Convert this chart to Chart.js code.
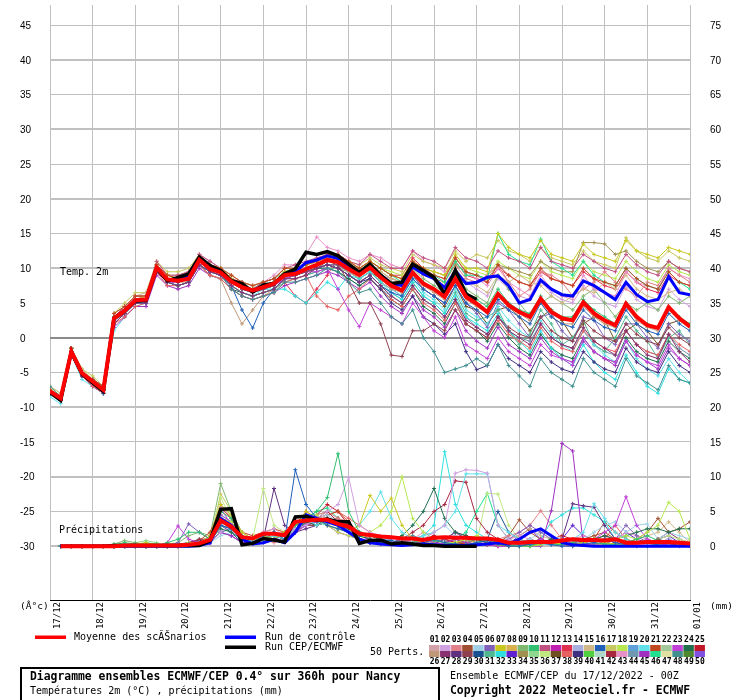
<!DOCTYPE html>
<html lang="fr">
<head>
<meta charset="UTF-8">
<title>Diagramme ensembles ECMWF/CEP - Nancy</title>
<script src="https://cdn.jsdelivr.net/npm/chart.js"></script>
<style>
  body { margin: 0; background: #fff; }
</style>
</head>
<body>
<canvas id="ensChart" width="740" height="700"></canvas>
<script>
// one point every 6h from 17/12 00Z to 01/01 00Z (61 steps)
const dayLabels = ['17/12', '18/12', '19/12', '20/12', '21/12', '22/12', '23/12', '24/12',
    '25/12', '26/12', '27/12', '28/12', '29/12', '30/12', '31/12', '01/01'];
const leftTicks = [-30, -25, -20, -15, -10, -5, 0, 5, 10, 15, 20, 25, 30, 35, 40, 45];
const rightTicks = [0, 5, 10, 15, 20, 25, 30, 35, 40, 45, 50, 55, 60, 65, 70, 75];

// temperature 2m (°C)
const tempMean = [-7.7, -8.7, -2, -5.1, -6.3, -7.5, 2.8, 3.9, 5.4, 5.5,
    10.1, 8.4, 8.2, 8.5, 11.2, 9.9, 9.4, 8.1, 7.3, 6.8,
    7.3, 7.8, 9, 9.2, 9.9, 10.5, 11.2, 10.9, 9.9, 9,
    10.1, 8.7, 7.5, 6.8, 9.4, 7.8, 7, 5.9, 8.5, 5.9,
    4.9, 3.7, 6.3, 4.7, 3.7, 3, 5.6, 3.7, 2.8, 2.5,
    5.1, 3.5, 2.5, 1.8, 4.9, 3, 1.8, 1.4, 4.4, 2.8, 1.6];
const tempCtrl = [-7.8, -8.9, -2, -5.1, -6.4, -7.6, 2.8, 3.9, 5.4, 5.5,
    10.1, 8.3, 8.4, 8.8, 11.4, 10.1, 9.5, 8.2, 7.5, 6.8,
    7.4, 7.8, 9.1, 9.5, 10.8, 11.2, 11.8, 11.4, 10.3, 9.2,
    10.4, 9, 7.8, 7.5, 10.2, 9.2, 8.5, 7.2, 9.6, 7.8,
    8, 8.7, 8.9, 7.5, 5, 5.5, 8.3, 7, 6.2, 6,
    8.2, 7.5, 6.5, 5.5, 8, 6.2, 5.2, 5.5, 8.8, 6.5, 6.2];
const tempCep = [-7.9, -9, -2, -5.2, -6.5, -7.7, 2.8, 3.9, 5.3, 5.4,
    10, 8.2, 8.7, 9.2, 11.6, 10.4, 9.7, 8.2, 7.8, 6.6,
    7.6, 7.8, 9.2, 9.9, 12.3, 12, 12.4, 11.8, 10.6, 9.4,
    10.6, 9, 7.8, 8, 10.6, 9.7, 8.7, 6.3, 9.7, 6.3,
    5.5];

// precipitation (mm per 6h)
const precipMean = [null, 0, 0, 0, 0, 0, 0, 0.1, 0.1, 0.1,
    0.1, 0.1, 0.1, 0.2, 0.4, 0.9, 3.7, 2.8, 1.3, 1.1,
    1.8, 1.8, 1.6, 3.5, 3.7, 3.8, 3.8, 3.2, 2.8, 1.8,
    1.6, 1.4, 1.3, 1.1, 1.1, 0.9, 1.2, 1.3, 1.2, 1.2,
    1.1, 1.1, 0.9, 0.5, 0.5, 0.6, 0.6, 0.6, 0.8, 1,
    0.9, 0.9, 0.8, 1, 0.5, 0.5, 0.6, 0.6, 0.6, 0.5, 0.4];
const precipCtrl = [null, 0, 0, 0, 0, 0, 0, 0, 0, 0,
    0, 0, 0, 0, 0.1, 0.5, 4, 3, 1, 0.3,
    0.5, 1, 0.5, 2, 4.5, 4, 3.5, 3, 2, 1,
    0.5, 0.3, 0.2, 0.1, 0.2, 0.3, 0.2, 0.1, 0.1, 0.1,
    0.2, 0.3, 0.5, 0.3, 1, 2, 2.5, 1.5, 0.5, 0.2,
    0.1, 0, 0, 0, 0, 0, 0, 0, 0, 0, 0];
const precipCep = [null, 0, 0, 0, 0, 0, 0.1, 0.1, 0.1, 0.1,
    0.1, 0.1, 0.1, 0.1, 0.1, 0.8, 5.3, 5.4, 0.2, 0.4,
    1.1, 0.9, 0.6, 4.2, 4.3, 3.7, 3.9, 3.5, 3.5, 0.4,
    0.8, 0.9, 0.3, 0.5, 0.3, 0.1, 0.1, 0, 0, 0,
    0];

// colours of the 50 perturbations (legend swatches)
const pertColours = ['#d4a0a8', '#d0a0e0', '#e08088', '#a05030', '#a0d0e8', '#8060b8', '#c8c820', '#d8b050', '#80b870', '#30c070',
    '#c05080', '#c020b0', '#e03050', '#a8b0e0', '#d0b888', '#2060b8', '#c8c860', '#b8e850', '#60a0d8', '#60e0e8',
    '#c04820', '#a0c898', '#c040d8', '#207050', '#c01828', '#c09878', '#883070', '#603080', '#904050', '#185090',
    '#50b890', '#30e0e0', '#6020d0', '#a09050', '#90d890', '#c0e880', '#705020', '#e86060', '#403080', '#50d040',
    '#b0d8c8', '#a82840', '#e890c8', '#7098b0', '#a030c0', '#20e090', '#e0e0a0', '#409090', '#508830', '#8050e0'];

const tempPertIds = [21, 27, 48, 29, 7, 23, 11, 16, 39, 15, 46, 38, 32, 34, 10, 17, 26, 45, 3, 20, 6, 43, 9, 31, 18, 24, 2, 37, 13, 44];
const tempPerts = [
    [-7.5,-8.5,-1.5,-5,-6,-7,3.5,4.5,6,6, 10.5,9,8.5,9,11.5,10.5,10,9,8,7.5, 8,8.5,10,10,10.5,11,12,12,11,10, 11,10,9,8.5,11,10,9,8.5,11.5,9.5, 9,8,10.5,9,8,7.5,10,8.5,8,7.5, 10,8.5,8,7.5,10,8.5,7.5,7,9.5,8,7.5],
    [-8,-9,-2.5,-5.5,-6.5,-7.5,2,3.5,5,5, 9.5,8,7.5,8,10.5,9.5,9,7.5,6.5,6, 6.5,7,8.5,8.5,9,10,10.5,10,9,8, 9,7.5,6,5,7.5,5.5,4.5,3,5.5,2.5, 1.5,0.5,3,1,0,-1,2,0,-1,-1.5, 1.5,-0.5,-1.5,-2.5,1,-1,-2.5,-3,0.5,-2,-3.5],
    [-7,-8.5,-1.5,-5,-6,-7,3,4,5.5,5.5, 10,8,7.5,8,11,9.5,9,7,6,5.5, 6,6.5,8,8,8.5,9,10,9.5,8,6.5, 7,5,3,2,4,0,-2,-5,-4.5,-4, -3,-4,-1,-4,-5.5,-7,-3,-5,-6,-7, -3,-5,-6,-7,-3,-5.5,-6.5,-7.5,-4,-6,-6.5],
    [-8,-9,-2,-5.5,-6.5,-7.5,2.5,3.5,5,5.5, 10,8.5,8,8.5,11,10,9.5,8,7,6.5, 7,7.5,9,9,9.5,10,11,10.5,8,5, 5,2,-2.5,-2.7,1,1,2,1,4,2, 1,0,3,1.5,0.5,0,3,1,0,-0.5, 2.5,1,0,-0.5,2,0.5,-0.5,-1,1.5,0,-1],
    [-7.5,-8.5,-1.5,-5,-6,-7.5,3,4,5.5,6, 10.5,9,8.5,9,11.5,10.5,10,8.5,7.5,7, 7.5,8,9.5,10,10.5,11,12,11.5,11,10, 11,10,9,8.5,11,10,9.5,9,12,10, 10,9.5,15,13,12,11.5,14,12,11.5,11, 13.5,12,11.5,11,14,12.5,12,11.5,13,12.5,12],
    [-7.5,-8.5,-2,-5,-6.5,-7.5,2.5,4,5.5,5.5, 10,8,8,8.5,11,9.5,9,8,7,6.5, 7,7.5,8.5,9,9.5,9.5,10,7,4,1.6, 5,4,3,2,5,3,1,0,3,-1, -2,-3,0,-2,-3,-4,-1,-2.5,-3,-4, 0,-2,-3,-3.5,-0.5,-2.5,-3.5,-4,-1,-3,-4],
    [-7.5,-8.5,-1.5,-5,-6,-7,3,4.5,6,6, 11,9,9,9.5,12,11,10,8.5,7.5,7, 8,8.5,10,10.5,11,11.5,12,12,11,10.5, 12,11,10,10,12.5,11.5,11,10,13,11.5, 11,10,12.5,11.5,11,10,13,11,10.5,10, 12,11,10,9.5,12,10.5,9.5,9,11,10,9.5],
    [-8,-9,-2.5,-5.5,-6.5,-8,2,3.5,5,5, 9.5,8,7.5,8,10.5,9.5,9,7.5,4,1.4, 5,7,8.5,9,9.5,10,10.5,10,9,8, 9,7.5,6.5,6,8.5,7,6,5,7.5,5, 4,3,5.5,4,3,2,5,3,2,1.5, 4,2.5,1.5,1,4,2,1,0.5,3.5,2,1],
    [-7.5,-8.5,-2,-5,-6,-7.5,3,4,5.5,5.5, 10,8.5,8,8.5,11.5,10,9.5,8,7.5,7, 7.5,8,9,9,9.5,10,10.5,10,9,8, 8.5,7,5,4,6,3,2,0.5,2,-2, -4.6,-4,-1,-3,-4,-5,-2,-3.5,-4.5,-5, -2,-3.5,-4.5,-5,-1.5,-3.5,-4.5,-5,-2,-4,-5],
    [-7,-8,-1.5,-4.5,-6,-7,3.5,4.5,6,6.5, 10.5,9,8.5,9,11.5,10.5,10,9,8,7.5, 8,8.5,9.5,9.5,10,11,11.5,11,10.5,9.5, 10.5,9.5,8.5,8,10.5,9,8.5,7.5,10,8, 7.5,6.5,9,8,9,8,7.5,6,5,6, 7,6.5,8,7,9,7,6,5.5,6.5,7,6],
    [-7.5,-8.5,-2,-5,-6,-7.5,2.5,4,5.5,5.5, 10,8.5,8.5,9,11,10,9.5,8.5,7.5,7, 8,8.5,9.5,10,10.5,11,12,11.5,10.5,9.5, 11,10,9,8,10.5,9.5,9,8,11,9, 9,8.5,15,12,11,10.5,14.2,11,10,9, 11,9,8,7.5,10,8.5,7.5,7,9.5,8,7],
    [-8,-9,-2,-5.5,-7,-8,2,3,4.5,5, 9.5,7.5,7.5,8,10.5,9,8.5,7,6,5.5, 6,6.5,8,8.5,9,6,4.5,4,6,7, 8.5,7,5.5,4.5,7,5,4,2.5,5,2, 1,0,2.5,0.5,-0.5,-1.5,1.5,-0.5,-1.5,-2, 1,-0.5,-1.5,-2,1,-1,-2,-2.5,0.5,-1,-2],
    [-7.5,-9,-2,-5,-6.5,-7.5,2.5,3.5,5,5, 10,8,8,8.5,11,9.5,9,8,7,6.5, 7,7,7,6,5,6.5,8,7,9,8.5, 9.5,8,6.5,5.5,8,6,5,3.5,6,3, 2,1,3.5,1,-0.5,-2,1,-1.5,-3,-4, -1,-3.5,-5,-6,-2.5,-5,-7,-8,-4.5,-6,-6.5],
    [-7.5,-8.5,-1.5,-5,-6,-7,3,4,5.5,6, 10,8.5,8.5,9,11,10,9.5,8.5,7.5,7, 7.5,8,9,9.5,10,10.5,11.5,11,10.5,9.5, 10.5,9.5,8.5,8,10,9,8.5,8,10.5,9.5, 9,8.5,10.5,10,9.5,9,11,10,9.5,9.5, 13.7,13.7,13.5,12,12.5,11,10,9.5,11,10,9.5],
    [-7.5,-8.5,-2,-5,-6.5,-7.5,3,4,5.5,5.5, 10,8.5,8,8.5,11,10,9.5,8,7.5,7, 7.5,8,9,9.5,10,10.5,11,11,10,9, 10,8.5,7.5,7,9.5,8,7,6,9,6.5, 5.5,4.5,7,5,4,3.5,6,4,3,3, 5.5,4,3,2,5,3,2,1.5,4.5,3,2],
    [-7,-8.5,-1.5,-4.5,-5.5,-7,3.5,5,6.5,6.5, 11,9.5,9.5,10,12,10.5,10,8.5,7.5,7, 8,8.5,10,10,10.5,11,12,11.5,11,10.5, 11.5,10.5,10,9.5,12,11,10.5,10,12.5,11, 12,11.5,14,12.5,12,11,13,11.5,11,10.5, 12.5,11,10.5,10,14.4,12.5,11.5,11,12.5,11.5,11],
    [-8,-9,-2,-5.5,-6.5,-8,2,3.5,5,5, 9.5,8,8,8,10.5,9,8.5,5,2,4, 6,7,8.5,9,9.5,10,10.5,10,9.5,8.5, 9.5,8,7,6.5,9,7.5,6.5,5.5,8,5.5, 4.5,3.5,6,4.5,3.5,2.5,5,3,2,2, 4.5,3,2,1.5,4.5,2.5,1.5,1,4,2.5,1.5],
    [-8,-9,-2.5,-5.5,-7,-8,1.5,3,4.5,4.5, 9,7.5,7,7.5,10,9,8.5,7,6,5.5, 6,6.5,7.5,8,8.5,9,9.5,9,8,7, 8,6,4.5,3.5,6,4,3,1.5,4,1, -0.5,-1.5,1.5,-1,-2,-3,0,-2,-3,-3.5, -0.5,-2,-3,-4,-0.5,-2.5,-3.5,-4.5,-1.5,-3,-4],
    [-7.5,-8.5,-2,-5,-6,-7,3,4.5,6,6, 10.5,9,8.5,9,11.5,10.5,10,8.5,7.5,7, 7.5,8,9.5,10,10.5,11,11.5,11,10.5,10, 11,10,9,8.5,11,9.5,9,8.5,10.5,8.5, 8,9,10.5,8,6,7,9.5,9,8,6, 7,8,9.5,8,7,6,8,7.5,10,9,8],
    [-8.5,-9.5,-2.5,-6,-7,-8,1,3,4.5,5, 9.5,8,7.5,8,10.5,9.5,9,7.5,6.5,6, 7,7.5,8.5,9,9.5,10,10.5,10,9.5,8.5, 9.5,8,7,6,8.5,6.5,5.5,4,7,4, 3,2,4.5,2.5,1,0,2.5,0.5,-1,-2, 1,-1,-2.5,-3.5,-0.5,-3,-4.5,-5.5,-3,-5,-6.5],
    [-7.5,-8.5,-2,-5,-6.5,-7.5,2.5,4,5,5.5, 10,8.5,8,8.5,11,10,9.5,8,7,6.5, 7,7.5,8.5,9,9.5,10,10.5,10.5,9.5,8.5, 9.5,8,7,6,9,7,6,5,7.5,5, 3.5,1.5,5,4,2,0,3,3.5,1,-0.5, 3,2.5,0,-1,2,2,0,-1.5,2,0.5,-0.5],
    [-7.5,-8.5,-2,-5,-6,-7,3,4,5.5,6, 10.5,9,9,9.5,12,11,10,9,8,7.5, 8,9,10.5,10.5,12,14.5,13,12.5,11.5,11, 12,11.5,10.5,10,12.5,11,10.5,9.5,11.5,9.5, 8.5,7.5,10,8,7,6,9,7,6,5.5, 9,7,6.5,6,9.5,8,7.5,7,10,9,8.5],
    [-8,-8.5,-2,-5,-6.5,-7.5,2.5,4,5.5,5.5, 10,8.5,8,8.5,11,10,9.5,8.5,7.5,7, 7,7.5,9,9.5,10,10.5,11,11,10,9, 10,9,8,7,10,8.5,7.5,6.5,9.5,7, 6,5,9,7,5,3,5,6,5,4, 6,7,5,3,5,4,5,4,6,5,6],
    [-7.5,-9,-2,-5.5,-6.5,-7.5,2.5,3.5,5,5, 9.5,8,7.5,8,10.5,9.5,9,7.5,6.5,6, 6.5,7,8,8.5,9,9.5,10,10,9,8, 9,7.5,6.5,5.5,8,6,5,3.5,6.5,3.5, 2.5,3,4,1,-1,0.5,4,2,-1,0, 2.5,-1,-2,0,3,1,-0.5,-3,0,1,-1],
    [-7,-8,-1.5,-4.5,-6,-7,3.5,4.5,6,6, 10.5,9,9,9.5,11.5,10.5,10,9,8,7.5, 8,8.5,9.5,10,10.5,11,11.5,11.5,10.5,10, 11,10,9.5,9,11,10,9.5,9,11.5,10, 9.5,9,11,10,9,8.5,11,9.5,9,8.5, 11,9.5,9,8.5,11,9.5,8.5,8,10.5,9.5,9],
    [-8,-9,-2.5,-5.5,-7,-8,2,3.5,5,5, 9.5,8,7.5,8,10.5,9,8.5,7,6.5,6, 6.5,7,8.5,9,9.5,10,10,9.5,8.5,7.5, 8.5,7,5.5,4.5,7,4.5,3.5,2,5,2, 1,-0.5,2,0,-1.5,-2.5,0.5,-1.5,-2.5,-3, 0,-2,-3,-3.5,0,-2,-3,-3.5,-0.5,-2,-3],
    [-7.5,-8.5,-2,-5,-6,-7.5,3,4,5.5,6, 10,8.5,8.5,9,11,10,9.5,8.5,7.5,7, 7.5,8,9.5,9.5,10,10.5,11,11,10,9.5, 10.5,9,8.5,8,10,9,8.5,7.5,10,8, 7,6,8.5,7,6,5.5,8,6.5,5.5,5, 7.5,6,5,4.5,7.5,5.5,4.5,4,7,5.5,4.5],
    [-7.5,-8.5,-2,-5,-6.5,-7.5,2.5,4,5.5,5.5, 10,8.5,8,8.5,11,9.5,9,8,7,6.5, 7,7.5,9,9,9.5,10,10.5,10.5,9.5,8.5, 9.5,8.5,7.5,6.5,9,7,6,4.5,7.5,4.5, 4,2,4,4.5,3,1,3,4,2.5,0, 2,3,2.5,-0.5,1,2,1,-1,2,2.5,1.5],
    [-7.5,-8.5,-1.5,-5,-6,-7,3,4.5,6,6, 10.5,9,8.5,9,11.5,10.5,10,8.5,8,7.5, 8,8.5,8,6,5,7,9,11.5,11,10, 11,10,9,9,11.5,10,9.5,9,11,9, 8.5,8,10,9,8,7.5,9.5,8.5,8,7.5, 9.5,8.5,7.5,7,9.5,8,7,6.5,9,8,7.5],
    [-8,-9,-2,-5.5,-6.5,-8,2,3.5,5,5, 9.5,8,7.5,8,10.5,9.5,9,7.5,6.5,6, 6.5,7,8.5,8.5,9,9.5,10,9.5,8.5,7.5, 8.5,7,6,5,7.5,5.5,4.5,3,5.5,3, 1.5,0.5,3,1,0,-0.5,2,0,-1,-1.5, 1,-1,-2,-2.5,1,-1,-2,-2.5,0.5,-1.5,-2.5]
];

const precipPertIds = [16, 10, 2, 7, 20, 18, 24, 23, 6, 45, 42, 3, 4, 28, 36, 5, 32, 21, 9, 25, 43, 48, 46, 15, 33, 17, 38, 27, 30, 35];
const precipPerts = [
    [null,0,0,0,0,0,0,0.1,0.2,0, 0,0,0.1,0.3,0.5,0.5,3,2.5,1,0.5, 1.5,2,1,11,6,4,3,2.5,2,1, 0.5,1,0.8,0.5,0.3,0.5,1,0.5,0.3,0.2, 0.5,0.8,0.3,0,0,0.3,0.5,0.2,0,0, 0.3,0.5,1,0.5,0.2,0,0,0.3,0.8,0.5,0.2],
    [null,0,0,0,0,0,0.2,0.5,0.3,0, 0,0.5,1,2,2,1,5,4,1.5,0.5, 1,2,1.5,3,4,5,7,13.3,5,2, 1.5,1,0.5,0.3,0.5,1,0.8,0.5,0.3,0.2, 0.5,1,0.5,0.2,0,0,0.5,0.3,0.2,0.5, 1,0.5,0.3,0.2,0.5,1,1.5,0.8,0.5,0.3,0.2],
    [null,0,0,0,0,0,0,0,0,0, 0,0,0.2,0.3,0.5,0.5,2,3,1.5,1, 2,2.5,1.5,2.5,3,4,5,6,9.9,3, 2,1.5,1,1,0.5,1,2,3,10.5,11, 10.9,10.5,3,1,0.5,0.3,0.5,0.2,0,0, 0.3,0.5,0.8,1,0.5,0.3,0.2,0.5,1,0.5,0.3],
    [null,0,0,0,0,0,0,0,0.3,0.5, 0.2,0,0,0.2,0.5,1.5,6,4.5,2,1, 1.5,1,2,3,5,4,3,2.5,2,3, 7.3,5,6.9,3,1,0.5,0.3,0.2,0.5,1, 0.5,0.3,0.2,0,0,0,0.3,0.5,0.3,0.2, 0.5,1,0.5,0.3,0.2,0,0,0.3,0.5,0.3,0.2],
    [null,0,0,0,0,0,0,0,0,0, 0,0,0,0.1,0.3,0.5,3.5,2.5,1,0.8, 1,1.5,1,2.5,4,3,3.5,3,2,3, 5,7.8,4,2,1,1.5,2,3,5,10.4, 10.4,10.4,3,2,1,0.5,0.3,0.2,0.5,1, 2,6.1,4,2,1,0.5,0.3,0.5,1,0.5,0.3],
    [null,0,0,0,0,0,0,0,0,0, 0,0,0.2,0.5,0.5,1,4,3.5,1.5,1, 1,1.5,2,3,4,4.5,3,2,1.5,1, 2,3,5,10,4,2,1,0.5,0.5,1, 1.5,1,0.5,0.3,0,0,0.2,0.5,0.3,0.2, 0.5,1,0.5,1,1.5,1,2,3,6.3,5,1],
    [null,0,0,0,0,0,0,0,0,0, 0,0,0,0.2,0.3,1,2.5,2,1,0.5, 1,1.5,1,2,3.5,3,4,3,2.5,1.5, 1,0.5,1,1.5,3,5,8.3,4,2,1.5, 1,0.5,0.3,0,0,0.3,0.5,1,0.5,0.3, 0.5,1,1.5,1,1.5,2,2.5,2.5,2,2.5,2.5],
    [null,0,0,0,0,0,0,0,0,0, 0,0.5,2.9,1,0.5,1.5,5.5,3,1,0.5, 1,2,1.5,2,3,4,3,2,1.5,1, 1,0.5,0.5,0.3,0.5,1,0.5,0.3,0.5,1, 0.5,0.3,0,0,0.3,0.5,1,0.5,0.3,0.2, 0.5,1,2,3,7.1,3,1,0.5,0.3,0.5,0.3],
    [null,0,0,0,0,0,0,0,0.2,0, 0,0,0.5,3.2,2,1,4.5,3.5,1,0.3, 0.5,1,2,2.5,3,3.5,4,3,2,1, 0.5,0.3,0.5,1,0.5,0.3,0.5,1,2,1, 0.5,0.3,0.5,1,2,3,2,1,0.5,0.3, 1,0.5,0.3,1,3,1.5,0.5,0.3,0.5,0.3,0.2],
    [null,0,0,0,0,0,0,0,0,0, 0,0,0,0.3,0.5,0.5,2,1.5,0.5,0.5, 1,1,1.5,2.5,3,3.5,4,3,2,1.5, 1,0.5,0.3,0.2,0.5,0.3,0.2,0.5,1,0.5, 0.3,0.2,0,0,0,0,0,5.1,14.8,13.7, 0.2,0.5,1,0.5,0.3,0.2,0.5,0.3,0.2,0,0],
    [null,0,0,0,0,0,0,0,0,0, 0,0,0.2,0.5,1,1,3.5,3,1.5,1, 1.5,1,2,3,3.5,4,5,3.5,3,2, 1.5,1,0.5,1,2,3,5,6,9.4,9.2, 4,2,1,0.5,0.3,0.5,1,0.5,0.2,0, 0.5,1,1.5,1,0.5,0.3,0.5,1,0.5,0.3,0.2],
    [null,0,0,0,0,0,0,0,0,0, 0,0,0,0.2,0.5,1.5,6,4,1.5,1, 1,0.5,1,2,3,4.5,5,4,3.5,2, 1,0.5,0.3,0.5,1,0.5,0.3,0.5,1,0.5, 0.3,0.5,1,1.5,2,3,5.1,3,1,0.5, 0.3,0.2,0.5,1,0.5,0.3,0.2,0.5,1,0.3,0.2],
    [null,0,0,0,0,0,0,0,0,0, 0,0,0.1,0.2,0.3,0.5,4,3.5,1.5,0.5, 1,1.5,1,2.5,3,3,3.5,4,3,2, 1,0.5,0.5,0.3,0.5,0.5,0.3,0.3,0.5,0.5, 0.3,0.2,0.5,1.5,3.8,2,1,0.5,0.3,0.5, 1,1.5,2,1,0.5,1,2,4,2,2.5,3.5],
    [null,0,0,0,0,0,0,0,0,0, 0,0,0.3,0.5,0.8,0.8,3,2.5,1.2,0.5, 1,8.3,3,2,2.5,3,3.5,3,2,1, 0.5,0.3,0.3,0.5,1,0.5,0.3,1,2,1, 0.5,0.3,0.2,0,0,0.2,0.5,0.3,1,6.1, 5.8,5.6,3,1,0.5,0.3,0.2,0.5,0.3,0.2,0.2],
    [null,0,0,0,0,0,0,0,0,0, 0,0,0.2,0.3,0.5,1.2,7,4,2,1, 8.3,3,2,2.5,3,3.5,4,3,2.5,1.5, 1,0.5,1,1.5,1,0.5,0.5,0.3,0.5,1, 0.5,7.6,7.5,3,1,0.5,0.3,0.2,0.5,0.3, 0.3,0.5,1,0.5,0.3,0.2,0.5,1,1.5,1,0.5],
    [null,0,0,0,0,0,0,0,0,0, 0,0,0,0.1,0.3,0.5,1.5,2,1,1, 1.5,1,1.5,2,3,4,4.5,3.5,3,2, 1.5,1,0.5,0.5,1,1.5,2,3,1.5,1, 0.5,0.3,0.5,1,0.5,1,2,1.5,1,0.5, 1,2,3,3.5,2,3,3.2,1,2,1.5,1],
    [null,0,0,0,0,0,0,0,0,0, 0,0,0,0.2,0.3,1,3,2.5,1,0.5, 1,1.5,2,3,4,3.5,3,2.5,2,1.5, 1,0.5,0.3,0.5,1,1.5,3,13.6,6,3, 2,1,0.5,0.3,0.2,0.5,1,3.5,4.5,5.5, 5.5,4.5,3.5,1,0.5,0.3,0.5,1,0.5,0.3,0.2],
    [null,0,0,0,0,0,0,0,0,0, 0,0,0.2,0.5,0.8,2,5.5,4,2,1.5, 2,2.5,2,3,5,4,4.5,5,3.5,2, 1.5,1,0.5,0.3,0.5,0.3,0.2,0.5,1,0.5, 0.3,0.2,0,0,0.3,0.5,1,0.5,0.3,0.2, 0.5,1,3.5,2,1,0.5,0.3,0.2,0.5,0.3,0.2],
    [null,0,0,0,0,0,0.3,0.8,0.5,0.2, 0,0.3,0.5,1.5,2,1.5,9,5,2,1, 1,1.5,1,2,3,3.5,4,3,2.5,1.5, 1,0.5,0.5,0.3,0.2,0.5,1,0.5,0.3,0.2, 0.3,0.5,0.3,0.2,0,0,0.3,0.5,1,0.5, 0.3,0.2,0.5,1,0.5,0.3,0.2,0.5,0.8,0.5,0.3],
    [null,0,0,0,0,0,0,0,0,0, 0,0,0,0.1,0.2,0.5,3.5,3,1,0.8, 1,2,1.5,2.5,3,4.5,6,5,3,2, 1,0.5,0.3,0.2,0.5,1,1.5,1,0.5,0.3, 0.2,0.5,1,0.5,0.3,0.2,0.5,1,1.5,1, 0.5,0.3,0.5,1,0.5,0.3,0.2,0.3,0.5,0.3,0.2],
    [null,0,0,0,0,0,0,0,0,0, 0,0,0,0.1,0.3,0.3,4.5,3.5,1.5,1, 1.5,1,2,3.5,4,4,3,2,1.5,1, 0.5,0.3,0.2,0.5,1,2,1.5,1,0.5,0.3, 0.2,0.3,0.5,1,1.5,1,0.5,0.3,0.5,1, 1.5,1,0.5,1,2,1.5,1,0.5,1,0.5,0.3],
    [null,0,0,0,0,0,0,0,0,0, 0,0,0.1,0.2,0.5,0.8,2,2.5,1,0.5, 1,1.5,2,2.5,3.5,4,3.5,3,2,1, 0.5,0.3,0.5,1,1.5,1,0.5,0.3,0.2,0.5, 1,0.5,0.3,0.2,0.5,1,0.5,0.3,0.2,0.3, 0.5,1,0.5,0.3,0.2,0.5,1,0.5,0.3,0.2,0.2],
    [null,0,0,0,0,0,0,0,0.2,0.5, 0.3,0,0.2,0.5,1,1,4,3,1.5,1, 1.5,1,2,3,4,5,5.5,4,3,2, 1.5,1,0.5,0.3,0.5,0.3,0.2,0.5,1,2, 5,7.6,3,1,0.5,0.3,0.2,0.5,0.3,0.2, 0.3,0.5,1,0.5,0.3,0.2,0.5,1,0.5,0.3,0.2],
    [null,0,0,0,0,0,0,0,0,0, 0,0,0,0.2,0.3,0.5,3,2.5,1,0.8, 1,1.5,1,2,3,3.5,4,3.5,2.5,1.5, 1,0.5,0.3,0.2,0.5,1,0.5,0.3,0.5,0.3, 0.2,0.3,0.5,1,1.5,2.5,1.5,1,0.5,0.3, 0.5,1,0.5,0.3,0.5,1,1.5,2,3.5,2,0.5],
    [null,0,0,0,0,0,0,0,0,0, 0,0,0.2,0.3,0.5,0.5,2,1.5,0.5,0.5, 1,1.5,1.5,2.5,3.5,3,3.5,3,2.5,1.5, 1,0.5,0.3,0.2,0.3,0.5,0.3,0.2,0.5,0.3, 0.2,0.3,0.5,0.3,1.5,2.5,1,0.5,1,3, 1.5,1,0.5,1,2,1,0.5,1,1.5,0.5,0.3],
    [null,0,0,0,0,0,0,0,0,0, 0,0,0,0.2,0.5,1,7.5,5,1.5,1, 1,1.5,2,2.5,3,3.5,3,2.5,2,1.5, 1,0.5,0.3,0.5,0.3,0.2,0.5,1,2,1, 0.5,0.3,0.2,0.3,0.5,0.3,0.2,0.3,0.5,0.3, 0.5,0.3,0.2,0.5,1,0.5,0.3,0.5,1,0.5,0.3],
    [null,0,0,0,0,0,0,0,0,0, 0,0,0,0.1,0.3,0.5,4,3,1.5,1, 1.5,2,1.5,3,3.5,4,4.5,5,4,3, 2,1,0.5,0.3,0.5,1,0.5,0.3,0.2,0.5, 1,0.5,0.3,0.2,0.3,0.5,1,0.5,0.3,0.5, 1,0.5,1,3,1,0.5,0.3,0.5,0.8,0.5,0.3],
    [null,0,0,0,0,0,0,0,0,0, 0,0,0.1,0.2,0.5,0.5,2,3,1.5,1, 1,1.5,1,2.5,3,3,3.5,4,3,1.5, 1,0.5,0.3,0.2,0.5,1,0.5,1,2,1.5, 1,0.5,0.3,0.2,0.5,1,0.5,0.3,0.5,1, 0.5,0.3,0.5,1,0.5,0.3,0.5,1,2,1,0.5],
    [null,0,0,0,0,0,0,0,0,0, 0,0,0,0.2,0.3,0.5,3,2,0.5,0.5, 1,1.5,1,2,3,4,3.5,3,2,1, 0.5,0.3,0.5,1,0.5,0.3,0.5,1,0.5,0.3, 0.5,1,5,2,1,0.5,0.3,0.2,0.5,0.3, 0.2,0.3,0.5,0.3,0.2,0.3,0.5,0.3,0.2,0.3,0.2],
    [null,0,0,0,0,0,0,0,0.5,0.8, 0.5,0,0,0.3,0.5,1,6,4.5,1.5,1, 1,1.5,2,3,4,4.5,5,3.5,2.5,1.5, 1,0.5,0.3,0.2,0.5,0.3,0.2,0.5,1,0.5, 0.3,0.2,0.5,1,0.5,0.3,0.2,0.3,0.5,0.3, 0.2,0.3,0.5,0.3,0.2,0.3,0.5,1,0.5,0.3,0.2]
];

// precipitation curves sit on the temperature axis with 0 mm at -30
const precipZero = -30;
const yMin = -37.75;
const yMax = 47.9;

function toPoints(values, shift) {
    return values.map((v, i) => ({ x: i, y: v === null ? null : v + shift }));
}

function memberSet(values, colour, shift) {
    return {
        data: toPoints(values, shift),
        borderColor: colour,
        backgroundColor: colour,
        borderWidth: 1,
        pointStyle: 'cross',
        pointRadius: 2,
        pointBorderWidth: 1,
        order: 5
    };
}

function mainSet(values, colour, width, shift, order) {
    return {
        data: toPoints(values, shift),
        borderColor: colour,
        borderWidth: width,
        pointRadius: 0,
        order: order
    };
}

const datasets = [];
tempPerts.forEach((vals, k) => datasets.push(memberSet(vals, pertColours[tempPertIds[k] - 1], 0)));
precipPerts.forEach((vals, k) => datasets.push(memberSet(vals, pertColours[precipPertIds[k] - 1], precipZero)));
datasets.push(mainSet(tempCtrl, '#0000ff', 3, 0, 2));
datasets.push(mainSet(precipCtrl, '#0000ff', 3, precipZero, 2));
datasets.push(mainSet(tempCep, '#000000', 3.5, 0, 1));
datasets.push(mainSet(precipCep, '#000000', 3.5, precipZero, 1));
datasets.push(mainSet(tempMean, '#ff0000', 4, 0, 0));
datasets.push(mainSet(precipMean, '#ff0000', 4, precipZero, 0));

const mono = '"DejaVu Sans Mono", monospace';

// texts and legend around the plot, drawn like the original image
const decorations = {
    id: 'decorations',
    afterDraw(chart) {
        const ctx = chart.ctx;
        ctx.save();
        ctx.fillStyle = '#000';
        ctx.textBaseline = 'middle';
        ctx.textAlign = 'left';

        ctx.font = '10px ' + mono;
        ctx.fillText('Temp. 2m', 60, 272.5);
        ctx.fillText('Précipitations', 59, 530.5);

        ctx.font = '9.5px ' + mono;
        ctx.fillText('(Â°c)', 20, 607);
        ctx.fillText('(mm)', 710, 607);

        // legend lines
        ctx.fillStyle = '#ff0000';
        ctx.fillRect(35, 635.5, 31, 3.5);
        ctx.fillStyle = '#0000ff';
        ctx.fillRect(225, 635.5, 31, 3.5);
        ctx.fillStyle = '#000';
        ctx.fillRect(225, 645.5, 31, 3.5);

        ctx.font = '10px ' + mono;
        ctx.fillText('Moyenne des scĂŠnarios', 74, 637.5);
        ctx.fillText('Run de contrôle', 265, 637.5);
        ctx.fillText('Run CEP/ECMWF', 265, 647.5);
        ctx.fillText('50 Perts.', 370, 652.5);

        // perturbation swatches
        ctx.textAlign = 'center';
        ctx.font = 'bold 8px ' + mono;
        for (let k = 0; k < 25; k++) {
            const x = 429 + k * 11.06;
            ctx.fillStyle = pertColours[k];
            ctx.fillRect(x, 645, 10.5, 6);
            ctx.fillStyle = pertColours[k + 25];
            ctx.fillRect(x, 651, 10.5, 6);
            ctx.fillStyle = '#000';
            ctx.fillText(String(k + 1).padStart(2, '0'), x + 5.5, 639.5);
            ctx.fillText(String(k + 26), x + 5.5, 662);
        }

        // title box
        ctx.strokeStyle = '#000';
        ctx.lineWidth = 2;
        ctx.strokeRect(21, 668, 418, 40);
        ctx.textAlign = 'left';
        ctx.font = 'bold 11.4px ' + mono;
        ctx.fillText('Diagramme ensembles ECMWF/CEP 0.4° sur 360h pour Nancy', 30, 677.5);
        ctx.font = '10px ' + mono;
        ctx.fillText('Températures 2m (°C) , précipitations (mm)', 30, 691);

        ctx.fillText('Ensemble ECMWF/CEP du 17/12/2022 - 00Z', 450, 676);
        ctx.font = 'bold 11.4px ' + mono;
        ctx.fillText('Copyright 2022 Meteociel.fr - ECMWF', 450, 691.5);
        ctx.restore();
    }
};

new Chart(document.getElementById('ensChart'), {
    type: 'line',
    data: { datasets: datasets },
    options: {
        responsive: false,
        animation: false,
        events: [],
        spanGaps: false,
        layout: { padding: { left: 20, right: 0, top: 0, bottom: 0 } },
        plugins: { legend: { display: false }, tooltip: { enabled: false } },
        scales: {
            x: {
                type: 'linear',
                min: 0,
                max: 60,
                afterBuildTicks: s => { s.ticks = dayLabels.map((d, k) => ({ value: k * 4 })); },
                afterFit: s => { s.height = 100; s.paddingLeft = 0; s.paddingRight = 0; },
                grid: { color: '#c0c0c0', lineWidth: 1, drawTicks: false },
                border: { color: '#000', width: 1 },
                ticks: {
                    autoSkip: false,
                    minRotation: 90,
                    maxRotation: 90,
                    padding: 2,
                    labelOffset: 8,
                    color: '#000',
                    font: { family: mono, size: 9 },
                    callback: v => dayLabels[Math.round(v / 4)]
                }
            },
            y: {
                position: 'left',
                min: yMin,
                max: yMax,
                afterBuildTicks: s => { s.ticks = leftTicks.map(v => ({ value: v })); },
                afterFit: s => { s.width = 30; s.paddingTop = 0; s.paddingBottom = 0; },
                grid: {
                    color: c => c.tick.value === 0 ? '#8a8a8a' : '#c0c0c0',
                    lineWidth: c => c.tick.value % 10 === 0 ? 2 : 1,
                    drawTicks: false
                },
                border: { display: false },
                ticks: { crossAlign: 'far', labelOffset: 1, color: '#000', font: { family: 'Liberation Sans', size: 10 } }
            },
            y2: {
                position: 'right',
                min: yMin - precipZero,
                max: yMax - precipZero,
                afterBuildTicks: s => { s.ticks = rightTicks.map(v => ({ value: v })); },
                afterFit: s => { s.width = 50; s.paddingTop = 0; s.paddingBottom = 0; },
                grid: { display: false, drawTicks: false },
                border: { display: false },
                ticks: { padding: 20, labelOffset: 1, color: '#000', font: { family: 'Liberation Sans', size: 10 } }
            }
        }
    },
    plugins: [decorations]
});
</script>
</body>
</html>
